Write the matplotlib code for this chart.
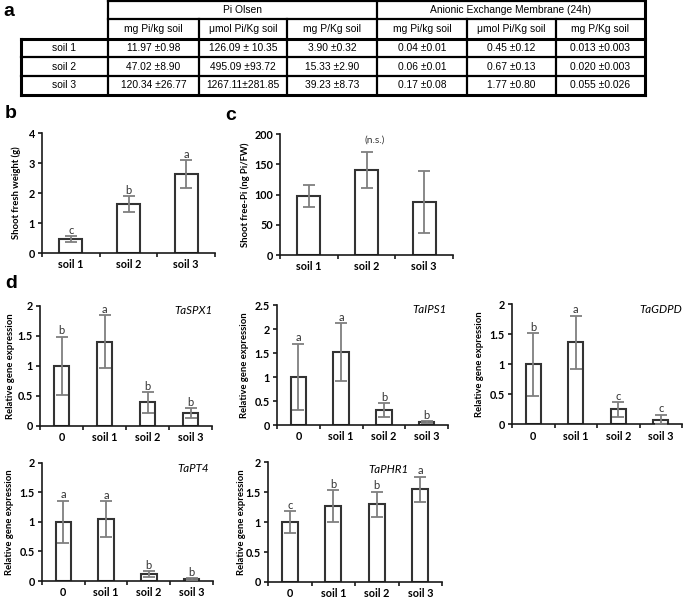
import matplotlib
matplotlib.use("Agg")
import matplotlib.pyplot as plt
import numpy as np

W, H = 685, 599

# ---------------- data ----------------
tbl_top_headers = ["Pi Olsen", "Anionic Exchange Membrane (24h)"]
tbl_units = ["mg Pi/kg soil", "μmol Pi/Kg soil", "mg P/Kg soil",
             "mg Pi/kg soil", "μmol Pi/Kg soil", "mg P/Kg soil"]
tbl_rows = ["soil 1", "soil 2", "soil 3"]
tbl_soil1 = ["11.97 ±0.98", "126.09 ± 10.35", "3.90 ±0.32", "0.04 ±0.01", "0.45 ±0.12", "0.013 ±0.003"]
tbl_soil2 = ["47.02 ±8.90", "495.09 ±93.72", "15.33 ±2.90", "0.06 ±0.01", "0.67 ±0.13", "0.020 ±0.003"]
tbl_soil3 = ["120.34 ±26.77", "1267.11±281.85", "39.23 ±8.73", "0.17 ±0.08", "1.77 ±0.80", "0.055 ±0.026"]

b_cats = ["soil 1", "soil 2", "soil 3"]
b_vals = [0.46, 1.64, 2.63]
b_err = [0.10, 0.26, 0.46]
b_letters = ["c", "b", "a"]

c_cats = ["soil 1", "soil 2", "soil 3"]
c_vals = [98, 141, 88]
c_err = [18.5, 30, 51]

d_cats = ["0", "soil 1", "soil 2", "soil 3"]
spx1_vals = [1.00, 1.40, 0.39, 0.21]
spx1_err = [0.48, 0.44, 0.17, 0.08]
spx1_letters = ["b", "a", "b", "b"]
ips1_vals = [1.00, 1.52, 0.31, 0.06]
ips1_err = [0.69, 0.60, 0.15, 0.025]
ips1_letters = ["a", "a", "b", "b"]
gdpd_vals = [1.00, 1.37, 0.25, 0.08]
gdpd_err = [0.52, 0.44, 0.12, 0.08]
gdpd_letters = ["b", "a", "c", "c"]
pt4_vals = [1.00, 1.05, 0.12, 0.03]
pt4_err = [0.36, 0.30, 0.05, 0.02]
pt4_letters = ["a", "a", "b", "b"]
phr1_vals = [1.00, 1.27, 1.30, 1.55]
phr1_err = [0.18, 0.26, 0.21, 0.21]
phr1_letters = ["c", "b", "b", "a"]

# ---------------- style ----------------
FONT = "Lato"
EDGE = "#333333"
ECOL = "#7f7f7f"
AXC = "#1a1a1a"

fig = plt.figure(figsize=(W / 100, H / 100), dpi=100)
fig.patch.set_facecolor("white")

ov = fig.add_axes([0, 0, 1, 1])
ov.set_xlim(0, W)
ov.set_ylim(H, 0)
ov.axis("off")


def px_axes(left, top, right, bottom):
    return fig.add_axes([left / W, 1 - bottom / H, (right - left) / W, (bottom - top) / H])


def bar_panel(ax, cats, vals, err, ymax, step, ylabel, width, letters=None,
              lab_x=-0.2):
    n = len(cats)
    x = np.arange(n)
    ax.bar(x, vals, width=width, color="white", edgecolor=EDGE, linewidth=1.5, zorder=2)
    ax.errorbar(x, vals, yerr=err, fmt="none", ecolor=ECOL, elinewidth=1.3,
                capsize=4, capthick=1.3, zorder=3)
    ax.set_xlim(-0.5, n - 0.5)
    ax.set_ylim(0, ymax)
    for s in ["top", "right"]:
        ax.spines[s].set_visible(False)
    for s in ["left", "bottom"]:
        ax.spines[s].set_color(AXC)
        ax.spines[s].set_linewidth(1.2)
    yt = np.arange(0, ymax + step / 2, step)
    ax.set_yticks(yt)
    ax.set_yticklabels(["%g" % v for v in yt], fontfamily=FONT, fontweight="bold", fontsize=7.8)
    ax.set_xticks(np.arange(-0.5, n, 1.0))
    ax.set_xticklabels([""] * (n + 1))
    ax.set_xticks(x, minor=True)
    ax.set_xticklabels(cats, minor=True, fontfamily=FONT, fontweight="bold", fontsize=7.8)
    ax.tick_params(axis="x", which="major", direction="out", length=3, width=1.2, color=AXC)
    ax.tick_params(axis="x", which="minor", length=0, pad=4.5)
    ax.tick_params(axis="y", direction="out", length=3, width=1.2, color=AXC, pad=2)
    ax.set_ylabel(ylabel, fontfamily=FONT, fontweight="bold", fontsize=6.8, va="center")
    ax.yaxis.set_label_coords(lab_x, 0.5)
    if letters:
        for xi, v, e, l in zip(x, vals, err, letters):
            ax.annotate(l, (xi, v + e), xytext=(0, 0.3), textcoords="offset points",
                        ha="center", va="bottom", fontfamily=FONT, fontsize=8,
                        color="#333333", zorder=4)


# ---------------- table (a) ----------------
col_x = [21, 108, 199, 287, 377, 467, 556, 645]
row_y = [1, 19, 38.5, 57, 76, 95]
tfont = dict(fontfamily="Liberation Sans", fontsize=7.4, color="black", ha="center", va="center")
lw_t = 1.6
ov.plot([108, 645], [row_y[0], row_y[0]], color="black", lw=lw_t)
ov.plot([108, 645], [row_y[1], row_y[1]], color="black", lw=lw_t)
for yy in row_y[2:]:
    ov.plot([21, 645], [yy, yy], color="black", lw=lw_t + (0.6 if yy in (38.5, 95) else 0))
ov.plot([21, 21], [38.5, 95], color="black", lw=lw_t + 0.6)
for xx in [108, 377, 645]:
    ov.plot([xx, xx], [1, 95], color="black", lw=lw_t + (0.6 if xx == 645 else 0))
for xx in [199, 287, 467, 556]:
    ov.plot([xx, xx], [19, 95], color="black", lw=lw_t)
ov.text((108 + 377) / 2, 10, tbl_top_headers[0], **tfont)
ov.text((377 + 645) / 2, 10, tbl_top_headers[1], **tfont)
centers = [(col_x[i] + col_x[i + 1]) / 2 for i in range(1, 7)]
for cx, u in zip(centers, tbl_units):
    ov.text(cx, 28.8, u, **tfont)
row_centers = [(row_y[i] + row_y[i + 1]) / 2 for i in range(2, 5)]
for ry, name, vals in zip(row_centers, tbl_rows, [tbl_soil1, tbl_soil2, tbl_soil3]):
    ov.text((21 + 108) / 2, ry, name, **tfont)
    for cx, v in zip(centers, vals):
        ov.text(cx, ry, v, **tfont)

# panel letters
pl = dict(fontfamily="Liberation Sans", fontweight="bold", fontsize=14, ha="center", va="center")
ov.text(9, 11, "a", **pl)
ov.text(11, 113, "b", **pl)
ov.text(231, 115, "c", **pl)
ov.text(11, 283, "d", **pl)

# ---------------- b ----------------
axb = px_axes(42, 133, 215, 253)
bar_panel(axb, b_cats, b_vals, b_err, 4, 1, "Shoot fresh weight (g)", 0.4,
          letters=b_letters, lab_x=-0.15)

# ---------------- c ----------------
axc = px_axes(280, 134, 453, 255)
bar_panel(axc, c_cats, c_vals, c_err, 200, 50, "Shoot free-Pi (ng Pi/FW)", 0.4,
          lab_x=-0.2)
axc.text(1.15, 190, "(n.s.)", ha="center", va="center", fontfamily=FONT,
         fontsize=7.3, color="#333333")

# ---------------- d ----------------
gl = dict(fontfamily=FONT, fontstyle="italic", fontsize=8.3, va="center", color="black")
ylab = "Relative gene expression"

ax1 = px_axes(40, 305.7, 212, 425.7)
bar_panel(ax1, d_cats, spx1_vals, spx1_err, 2, 0.5, ylab, 0.36, spx1_letters, lab_x=-0.17)
ax1.text(1.0, 0.96, "TaSPX1", transform=ax1.transAxes, ha="right", **gl)

ax2 = px_axes(277, 305, 448, 425)
bar_panel(ax2, d_cats, ips1_vals, ips1_err, 2.5, 0.5, ylab, 0.36, ips1_letters, lab_x=-0.19)
ax2.text(0.99, 0.96, "TaIPS1", transform=ax2.transAxes, ha="right", **gl)

ax3 = px_axes(512, 304.3, 682, 424.3)
bar_panel(ax3, d_cats, gdpd_vals, gdpd_err, 2, 0.5, ylab, 0.36, gdpd_letters, lab_x=-0.19)
ax3.text(1.0, 0.955, "TaGDPD", transform=ax3.transAxes, ha="right", **gl)

ax4 = px_axes(42, 462.7, 213, 581)
bar_panel(ax4, d_cats, pt4_vals, pt4_err, 2, 0.5, ylab, 0.36, pt4_letters, lab_x=-0.19)
ax4.text(0.977, 0.955, "TaPT4", transform=ax4.transAxes, ha="right", **gl)

ax5 = px_axes(268, 462.3, 442, 582)
bar_panel(ax5, d_cats, phr1_vals, phr1_err, 2, 0.5, ylab, 0.36, phr1_letters, lab_x=-0.155)
ax5.text(0.69, 0.94, "TaPHR1", transform=ax5.transAxes, ha="center", **gl)

fig.savefig("out.png", dpi=100, facecolor="white")
